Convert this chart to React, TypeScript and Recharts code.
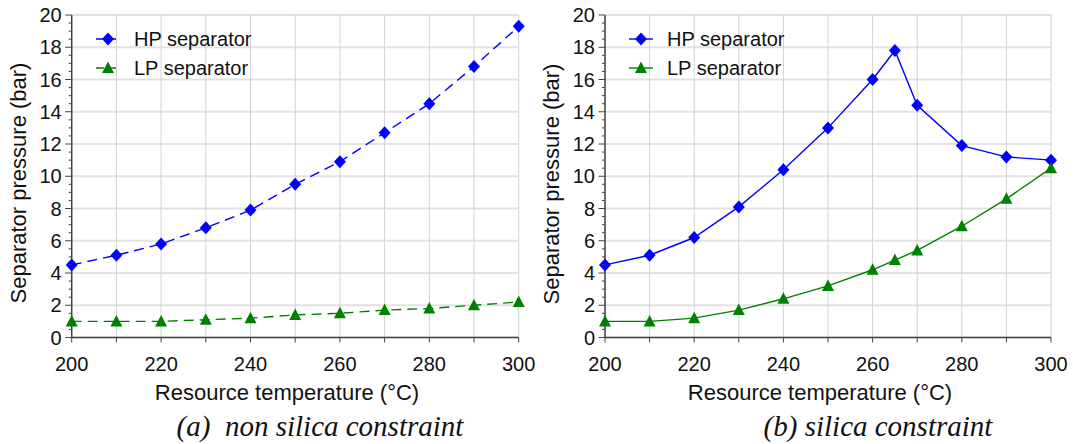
import React from 'react';
import { LineChart, Line, XAxis, YAxis, CartesianGrid } from 'recharts';

// (a) non silica constraint
const tempsA = [200, 210, 220, 230, 240, 250, 260, 270, 280, 290, 300];
const hpA = [4.5, 5.1, 5.8, 6.8, 7.9, 9.5, 10.9, 12.7, 14.5, 16.8, 19.3];
const lpA = [1.0, 1.0, 1.0, 1.1, 1.2, 1.4, 1.5, 1.7, 1.8, 2.0, 2.2];

// (b) silica constraint
const tempsB = [200, 210, 220, 230, 240, 250, 260, 265, 270, 280, 290, 300];
const hpB = [4.5, 5.1, 6.2, 8.1, 10.4, 13.0, 16.0, 17.8, 14.4, 11.9, 11.2, 11.0];
const lpB = [1.0, 1.0, 1.2, 1.7, 2.4, 3.2, 4.2, 4.8, 5.4, 6.9, 8.6, 10.5];

const xTicks = [200, 210, 220, 230, 240, 250, 260, 270, 280, 290, 300];
const yMajor = [0, 2, 4, 6, 8, 10, 12, 14, 16, 18, 20];
const yTicks = [0, 0.5, 1, 1.5, 2, 2.5, 3, 3.5, 4, 4.5, 5, 5.5, 6, 6.5, 7, 7.5, 8, 8.5, 9, 9.5, 10,
  10.5, 11, 11.5, 12, 12.5, 13, 13.5, 14, 14.5, 15, 15.5, 16, 16.5, 17, 17.5, 18, 18.5, 19, 19.5, 20];

const seriesNames = ['HP separator', 'LP separator'];
const captions = ['(a)  non silica constraint', '(b) silica constraint'];
const xTitle = 'Resource temperature (°C)';
const yTitle = 'Separator pressure (bar)';

const BLUE = '#0000ff';
const GREEN = '#008000';
const AXIS = '#444';
const SANS = '"Liberation Sans", Arial, sans-serif';
const SERIF = '"Liberation Serif", "Times New Roman", serif';

const Diamond = ({ cx, cy, fill }: any) => (
  <polygon points={`${cx},${cy - 6.5} ${cx + 6},${cy} ${cx},${cy + 6.5} ${cx - 6},${cy}`} fill={fill} />
);
const Triangle = ({ cx, cy, fill }: any) => (
  <polygon points={`${cx},${cy - 6.5} ${cx + 6},${cy + 5} ${cx - 6},${cy + 5}`} fill={fill} />
);

const LeftTick = ({ x, y, payload }: any) => {
  const major = payload.value % 2 === 0;
  return (
    <g>
      <line x1={x - (major ? 6.5 : 3)} x2={x} y1={y} y2={y} stroke={AXIS} />
      {major && (
        <text x={x - 10} y={y} dy="0.36em" textAnchor="end" fontSize={20} fontFamily={SANS} fill="#111">
          {payload.value}
        </text>
      )}
    </g>
  );
};

const RightTick = ({ x, y, payload }: any) => {
  const major = payload.value % 2 === 0;
  return <line x1={x - (major ? 6 : 3)} x2={x} y1={y} y2={y} stroke={AXIS} />;
};

const BottomTick = ({ x, y, payload }: any) => (
  <g>
    <line x1={x} x2={x} y1={y} y2={y + 5} stroke={AXIS} />
    {payload.value % 20 === 0 && (
      <text x={x} y={y + 19} dy="0.71em" textAnchor="middle" fontSize={20} fontFamily={SANS} fill="#111">
        {payload.value}
      </text>
    )}
  </g>
);

const TopTick = ({ x, y }: any) => <line x1={x} x2={x} y1={y} y2={y + 4} stroke={AXIS} />;

interface PanelProps {
  temps: number[];
  hp: number[];
  lp: number[];
  dashed: boolean;
  yAxisWidth: number;
  rightMargin: number;
}

const Panel = ({ temps, hp, lp, dashed, yAxisWidth, rightMargin }: PanelProps) => {
  const data = temps.map((t, i) => ({ t, hp: hp[i], lp: lp[i] }));
  const dash = dashed ? '10 6' : undefined;
  return (
    <LineChart width={540} height={380} data={data} margin={{ top: 15, right: rightMargin, left: 0, bottom: 0 }}>
      <CartesianGrid vertical={false} horizontalValues={yMajor} stroke="#e2e2e2" strokeWidth={2} />
      <CartesianGrid horizontal={false} verticalValues={xTicks} stroke="#d2d2d2" strokeWidth={1} />
      <XAxis dataKey="t" type="number" domain={[200, 300]} ticks={xTicks} interval={0} height={42.5}
        tickSize={0} tickMargin={0} tick={<BottomTick />} stroke={AXIS} strokeWidth={1.5} />
      <XAxis xAxisId="top" dataKey="t" type="number" domain={[200, 300]} ticks={xTicks} interval={0}
        orientation="top" mirror height={0} tickSize={0} tickMargin={0} tick={<TopTick />} stroke={AXIS} strokeWidth={1.5} />
      <YAxis type="number" domain={[0, 20]} ticks={yTicks} interval={0} width={yAxisWidth}
        tickSize={0} tickMargin={0} tick={<LeftTick />} stroke={AXIS} strokeWidth={1.5} />
      <YAxis yAxisId="right" type="number" domain={[0, 20]} ticks={yTicks} interval={0} orientation="right"
        mirror width={0} tickSize={0} tickMargin={0} tick={<RightTick />} stroke={AXIS} strokeWidth={1.5} />
      <Line dataKey="hp" stroke={BLUE} strokeWidth={1.4} strokeDasharray={dash} isAnimationActive={false}
        dot={(p: any) => <Diamond key={`hp-${p.index}`} cx={p.cx} cy={p.cy} fill={BLUE} />} activeDot={false} />
      <Line dataKey="lp" stroke={GREEN} strokeWidth={1.4} strokeDasharray={dash} isAnimationActive={false}
        dot={(p: any) => <Triangle key={`lp-${p.index}`} cx={p.cx} cy={p.cy} fill={GREEN} />} activeDot={false} />
    </LineChart>
  );
};

const LegendBox = ({ left, dashed }: { left: number; dashed: boolean }) => (
  <g>
    {seriesNames.map((name, i) => {
      const y = 39 + i * 29;
      const color = i === 0 ? BLUE : GREEN;
      return (
        <g key={name}>
          <line x1={left} x2={left + 24} y1={y} y2={y} stroke={color} strokeWidth={1.4}
            strokeDasharray={dashed ? '8 4' : undefined} />
          {i === 0 ? <Diamond cx={left + 12} cy={y} fill={color} /> : <Triangle cx={left + 12} cy={y} fill={color} />}
          <text x={left + 38} y={y} dy="0.36em" fontSize={20} fontFamily={SANS} fill="#111">{name}</text>
        </g>
      );
    })}
  </g>
);

const App = () => (
  <div style={{ position: 'absolute', left: 0, top: 0, width: 1073, height: 444, background: '#fff' }}>
    <div style={{ position: 'absolute', left: 0, top: 0 }}>
      <Panel temps={tempsA} hp={hpA} lp={lpA} dashed yAxisWidth={71.7} rightMargin={21.3} />
    </div>
    <div style={{ position: 'absolute', left: 533, top: 0 }}>
      <Panel temps={tempsB} hp={hpB} lp={lpB} dashed={false} yAxisWidth={72} rightMargin={22} />
    </div>
    <svg width={1073} height={444} style={{ position: 'absolute', left: 0, top: 0, pointerEvents: 'none' }}>
      <LegendBox left={96} dashed />
      <LegendBox left={629} dashed={false} />
      <text x={287} y={400} textAnchor="middle" fontSize={22} fontFamily={SANS} fill="#111">{xTitle}</text>
      <text x={820} y={400} textAnchor="middle" fontSize={22} fontFamily={SANS} fill="#111">{xTitle}</text>
      <text transform="translate(26,183) rotate(-90)" textAnchor="middle" fontSize={22} fontFamily={SANS} fill="#111">{yTitle}</text>
      <text transform="translate(559,184) rotate(-90)" textAnchor="middle" fontSize={22} fontFamily={SANS} fill="#111">{yTitle}</text>
      <text x={320} y={436} textAnchor="middle" fontSize={29} fontStyle="italic" fontFamily={SERIF} fill="#111"
        style={{ whiteSpace: 'pre' }}>{captions[0]}</text>
      <text x={878} y={436} textAnchor="middle" fontSize={29} fontStyle="italic" fontFamily={SERIF} fill="#111"
        style={{ whiteSpace: 'pre' }}>{captions[1]}</text>
    </svg>
  </div>
);

export default App;
